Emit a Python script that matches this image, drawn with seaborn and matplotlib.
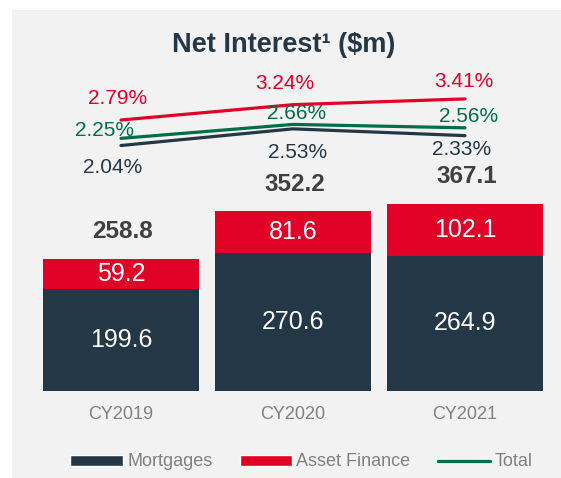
import numpy as np
import pandas as pd
import matplotlib.pyplot as plt
import seaborn as sns
from matplotlib.patches import Rectangle, Patch
from matplotlib.lines import Line2D

# data
years = ['CY2019', 'CY2020', 'CY2021']
mortgages = [199.6, 270.6, 264.9]
asset_finance = [59.2, 81.6, 102.1]
totals = [258.8, 352.2, 367.1]
nim_asset_finance = [2.79, 3.24, 3.41]
nim_total = [2.25, 2.66, 2.56]
nim_mortgages = [2.04, 2.53, 2.33]

NAVY = '#243746'
RED = '#e10026'
GREEN = '#006e46'
BG = '#f2f2f2'

sns.set_style('white')
plt.rcParams['font.family'] = ['Liberation Sans', 'DejaVu Sans']

fig = plt.figure(figsize=(5.61, 4.78), dpi=100, facecolor='white')
W, H = 561, 478
fig.patches.append(Rectangle((12 / W, 0), 1 - 12 / W, 1 - 10 / H,
                             transform=fig.transFigure, facecolor=BG,
                             edgecolor='none', zorder=-10))

fig.text(284 / W, 1 - 45 / H, 'Net Interest\u00b9 ($m)', ha='center', va='center',
         fontsize=19.5, fontweight='bold', color=NAVY)

df = pd.DataFrame({'year': years, 'mortgages': mortgages,
                   'asset_finance': asset_finance, 'total': totals})

# bar axes
ax = fig.add_axes([35 / W, 1 - 391 / H, 516 / W, 201 / H])
ax.set_facecolor('none')
sns.barplot(data=df, x='year', y='total', color=RED, saturation=1, width=0.907,
            linewidth=0, ax=ax)
sns.barplot(data=df, x='year', y='mortgages', color=NAVY, saturation=1, width=0.907,
            linewidth=0, ax=ax)
ax.set_xlim(-0.5, 2.5)
ax.set_ylim(0, 394)
ax.set_xlabel('')
ax.set_ylabel('')
ax.set_yticks([])
sns.despine(ax=ax, left=True, bottom=True)
ax.tick_params(axis='x', length=0, pad=11, labelsize=13, labelcolor='#808080')

for i, (m, a, t) in enumerate(zip(mortgages, asset_finance, totals)):
    ax.text(i, m / 2, f'{m:.1f}', ha='center', va='center', color='white', fontsize=18)
    ax.text(i, m + a / 2, f'{a:.1f}', ha='center', va='center', color='white', fontsize=18)
    ax.annotate(f'{t:.1f}', (i, t), xytext=(1, 19.5), textcoords='offset points',
                ha='center', va='center', color='#404040', fontsize=17.5, fontweight='bold')

# margin line axes
lax = fig.add_axes([35 / W, 1 - 160 / H, 516 / W, 70 / H])
lax.set_facecolor('none')
lax.axis('off')
x = np.arange(len(years))
px = 100 / 72
series = [
    (nim_asset_finance, RED, [(-3, 21), (-8, 21), (-1, 17)]),
    (nim_total, GREEN, [(-17, 8), (4, 11), (4, 11)]),
    (nim_mortgages, NAVY, [(-8, -22), (5, -24), (-3, -14)]),
]
for vals, col, offs in [series[2], series[1], series[0]]:
    sns.lineplot(x=x, y=vals, color=col, linewidth=2.3, ax=lax)
for vals, col, offs in series:
    for i, v in enumerate(vals):
        lax.annotate(f'{v:.2f}%', (x[i], v), xytext=(offs[i][0] / px, offs[i][1] / px),
                     textcoords='offset points', ha='center', va='center',
                     color=col, fontsize=15)
lax.set_xlim(-0.5, 2.5)
lax.set_ylim(1.614, 3.672)

handles = [Patch(facecolor=NAVY, label='Mortgages'),
           Patch(facecolor=RED, label='Asset Finance'),
           Line2D([], [], color=GREEN, linewidth=2.3, label='Total')]
leg = fig.legend(handles=handles, loc='center', bbox_to_anchor=(301.5 / W, 1 - 462 / H),
                 ncol=3, frameon=False, fontsize=13, handlelength=2.9,
                 handletextpad=0.25, columnspacing=1.5, handleheight=0.55)
for t in leg.get_texts():
    t.set_color('#808080')

fig.savefig('out.png', dpi=100, facecolor='white')
